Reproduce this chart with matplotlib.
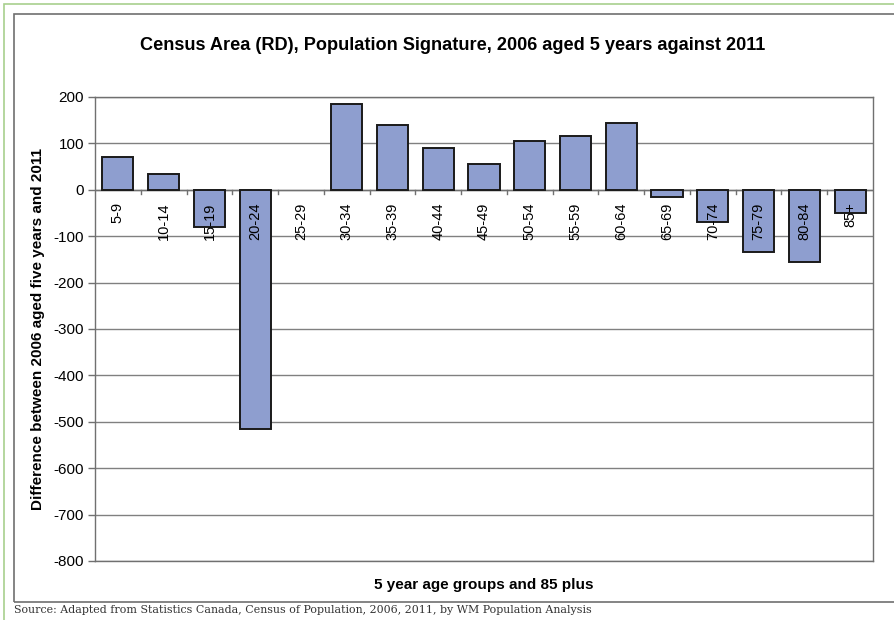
import matplotlib
matplotlib.use("Agg")
import matplotlib.pyplot as plt
from matplotlib.patches import Rectangle
import numpy as np

age_groups = ["5-9", "10-14", "15-19", "20-24", "25-29", "30-34", "35-39", "40-44",
              "45-49", "50-54", "55-59", "60-64", "65-69", "70-74", "75-79", "80-84", "85+"]
difference = [70, 35, -80, -515, 0, 185, 140, 90, 55, 105, 115, 145, -15, -70, -135, -155, -50]
y_ticks = [200, 100, 0, -100, -200, -300, -400, -500, -600, -700, -800]

title = "Census Area (RD), Population Signature, 2006 aged 5 years against 2011"
x_label = "5 year age groups and 85 plus"
y_label = "Difference between 2006 aged five years and 2011"
source = "Source: Adapted from Statistics Canada, Census of Population, 2006, 2011, by WM Population Analysis"

plt.rcParams["font.family"] = ["Liberation Sans", "DejaVu Sans"]

W, H = 895, 620
fig = plt.figure(figsize=(W / 100, H / 100), dpi=100)

# outer frames
fig.patches.append(Rectangle((4 / W, -0.1), 1.2, (H - 4) / H + 0.1, transform=fig.transFigure,
                             fill=False, edgecolor="#a8d08d", linewidth=1.2))
fig.patches.append(Rectangle((14 / W, 1 - 602 / H), 1.2, (602 - 14) / H, transform=fig.transFigure,
                             fill=False, edgecolor="#707070", linewidth=1.2))

left, right, top, bottom = 95, 873, 97, 561
ax = fig.add_axes([left / W, 1 - bottom / H, (right - left) / W, (bottom - top) / H])

x = np.arange(len(age_groups))
edges = ["#1a1a1a" if v != 0 else "none" for v in difference]
ax.bar(x, difference, width=0.68, color="#8e9ecf", edgecolor=edges, linewidth=1.4, zorder=3)

ax.set_xlim(-0.5, len(age_groups) - 0.5)
ax.set_ylim(-800, 200)
ax.set_yticks(y_ticks)
ax.set_yticklabels([str(v) for v in y_ticks], fontsize=11)
ax.tick_params(axis="y", direction="out", length=5, width=1, color="#707070", pad=3)
ax.grid(axis="y", color="#808080", linewidth=1, zorder=0)
ax.set_axisbelow(True)

for s in ax.spines.values():
    s.set_color("#707070")
    s.set_linewidth(1)

# category axis drawn at zero
ax.set_xticks([])
ax.axhline(0, color="#707070", linewidth=1, zorder=2)
for b in np.arange(0.5, len(age_groups) - 0.5, 1.0):
    ax.plot([b, b], [0, -9], color="#707070", linewidth=1, zorder=2)
for xi, lab in zip(x, age_groups):
    ax.annotate(lab, xy=(xi, 0), xytext=(0, -9), textcoords="offset points",
                rotation=90, ha="center", va="top", fontsize=10.5, zorder=4)

fig.text(453 / W, 1 - 46 / H, title, ha="center", va="center",
         fontsize=13.1, fontweight="bold")
fig.text((left + right) / 2 / W, 1 - 585 / H, x_label, ha="center", va="center",
         fontsize=11, fontweight="bold")
fig.text(38 / W, 1 - (top + bottom) / 2 / H, y_label, ha="center", va="center",
         rotation=90, fontsize=11, fontweight="bold")
fig.text(14 / W, 1 - 610 / H, source, ha="left", va="center", fontsize=7.9,
         family="DejaVu Serif", color="#333333")

fig.savefig("out.png", dpi=100)
